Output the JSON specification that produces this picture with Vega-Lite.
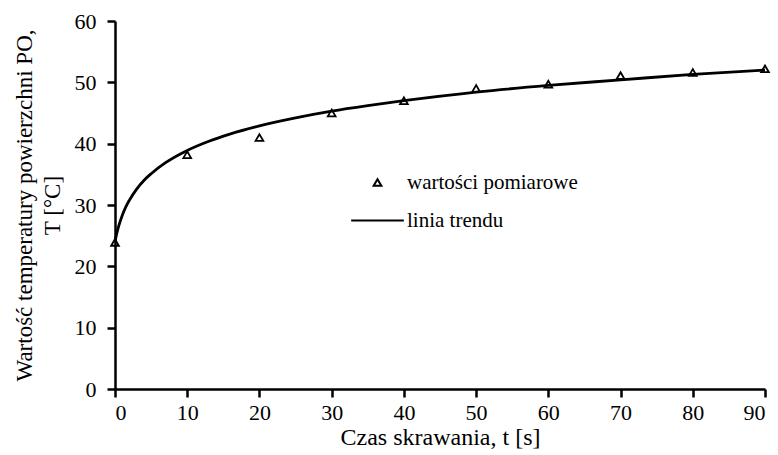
{
  "$schema": "https://vega.github.io/schema/vega-lite/v6.json",
  "autosize": "none",
  "padding": {"left": 115, "top": 21, "right": 13, "bottom": 66},
  "width": 650,
  "height": 368,
  "background": "white",
  "config": {
    "view": {"stroke": null},
    "font": "Liberation Serif",
    "axis": {
      "grid": false,
      "domainColor": "black",
      "domainWidth": 2.5,
      "tickColor": "black",
      "tickWidth": 2.5,
      "tickSize": 8,
      "labelFont": "Liberation Serif",
      "labelFontSize": 22,
      "labelColor": "black",
      "titleFont": "Liberation Serif",
      "titleFontSize": 23,
      "titleFontWeight": "normal",
      "titleColor": "black"
    }
  },
  "datasets": {
    "pomiary": [
      {"t": 0, "T": 23.9, "seria": "wartości pomiarowe"},
      {"t": 10, "T": 38.2, "seria": "wartości pomiarowe"},
      {"t": 20, "T": 41.0, "seria": "wartości pomiarowe"},
      {"t": 30, "T": 45.0, "seria": "wartości pomiarowe"},
      {"t": 40, "T": 47.0, "seria": "wartości pomiarowe"},
      {"t": 50, "T": 49.0, "seria": "wartości pomiarowe"},
      {"t": 60, "T": 49.7, "seria": "wartości pomiarowe"},
      {"t": 70, "T": 51.1, "seria": "wartości pomiarowe"},
      {"t": 80, "T": 51.6, "seria": "wartości pomiarowe"},
      {"t": 90, "T": 52.2, "seria": "wartości pomiarowe"}
    ],
    "trend": [
      {"t": 0, "T": 24.0},
      {"t": 0.25, "T": 25.4},
      {"t": 0.5, "T": 26.5},
      {"t": 1, "T": 28.3},
      {"t": 1.5, "T": 29.7},
      {"t": 2, "T": 30.8},
      {"t": 3, "T": 32.6},
      {"t": 4, "T": 34.0},
      {"t": 5, "T": 35.1},
      {"t": 7, "T": 36.9},
      {"t": 10, "T": 38.9},
      {"t": 13, "T": 40.4},
      {"t": 16, "T": 41.6},
      {"t": 20, "T": 42.9},
      {"t": 25, "T": 44.2},
      {"t": 30, "T": 45.3},
      {"t": 35, "T": 46.2},
      {"t": 40, "T": 47.0},
      {"t": 50, "T": 48.4},
      {"t": 60, "T": 49.5},
      {"t": 70, "T": 50.4},
      {"t": 80, "T": 51.3},
      {"t": 90, "T": 52.0}
    ]
  },
  "layer": [
    {
      "data": {"name": "trend"},
      "mark": {"type": "line", "color": "black", "strokeWidth": 2.8, "interpolate": "monotone", "clip": false},
      "encoding": {
        "x": {"field": "t", "type": "quantitative", "scale": {"domain": [0, 90], "nice": false, "zero": false},
          "axis": {"values": [0,10,20,30,40,50,60,70,80,90], "title": "Czas skrawania, t [s]", "titleFontSize": 24, "labelPadding": 5, "titlePadding": 2}},
        "y": {"field": "T", "type": "quantitative", "scale": {"domain": [0, 60], "nice": false},
          "axis": {"values": [0,10,20,30,40,50,60], "title": ["Wartość temperatury powierzchni PO,", "T [°C]"], "labelPadding": 11, "titlePadding": 10, "titleLineHeight": 28}}
      }
    },
    {
      "data": {"name": "pomiary"},
      "mark": {"type": "point", "filled": false, "color": "black", "strokeWidth": 1.8, "size": 60, "opacity": 1, "clip": false},
      "encoding": {
        "x": {"field": "t", "type": "quantitative"},
        "y": {"field": "T", "type": "quantitative"},
        "shape": {
          "field": "seria",
          "type": "nominal",
          "scale": {"domain": ["wartości pomiarowe", "linia trendu"], "range": ["triangle-up", "M-6.8,0L6.8,0"]},
          "legend": {
            "title": null,
            "orient": "none",
            "legendX": 252,
            "legendY": 151,
            "symbolSize": 60,
            "symbolStrokeColor": "black",
            "symbolFillColor": "transparent",
            "symbolStrokeWidth": 2,
            "labelFont": "Liberation Serif",
            "labelFontSize": 21,
            "labelColor": "black",
            "labelLimit": 0,
            "labelOffset": 19,
            "rowPadding": 16
          }
        }
      }
    }
  ]
}
